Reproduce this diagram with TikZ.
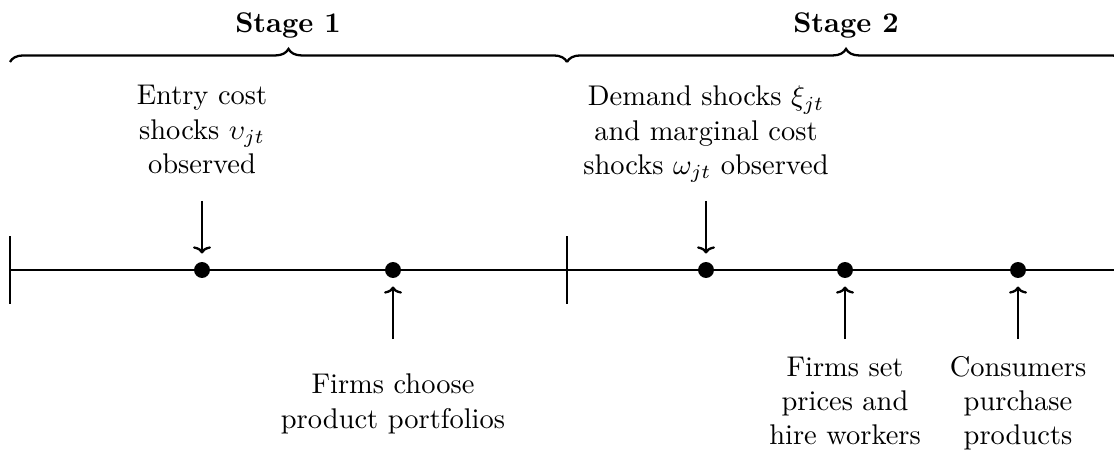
\documentclass[tikz,border=0pt]{standalone}
\usetikzlibrary{decorations.pathreplacing,arrows.meta}
\begin{document}
\begin{tikzpicture}[x=0.012343cm,y=-0.012343cm,
  line width=0.8pt,
  dot/.style={circle,fill=black,inner sep=0pt,minimum size=5.6pt},
  lbl/.style={align=center,inner sep=0pt,anchor=north},
  arr/.style={-{To[length=2.5pt,width=6.3pt]},shorten >=2.6pt},
  bracestyle/.style={decorate,decoration={brace,amplitude=4.6pt}},
  stagelbl/.style={anchor=base,inner sep=0pt,font=\bfseries}]
\useasboundingbox (0,0) rectangle (1114,450);
% timeline
\coordinate (L) at (10,270);
\coordinate (M) at (567,270);
\coordinate (R) at (1125,270);
\draw (L) -- (R);
\draw (L) ++(0,-34) -- ++(0,68);
\draw (M) ++(0,-34) -- ++(0,68);
% braces
\coordinate (b1s) at (10,62);
\coordinate (b1e) at (567,62);
\coordinate (b2s) at (567,62);
\coordinate (b2e) at (1125,62);
\draw[bracestyle] (b1s) -- (b1e);
\draw[bracestyle] (b2s) -- (b2e);
\node[stagelbl] (s1) at (288,33) {Stage 1};
\node[stagelbl] (s2) at (846,33) {Stage 2};
% dots
\node[dot] (d1) at (202,270) {};
\node[dot] (d2) at (393,270) {};
\node[dot] (d3) at (706,270) {};
\node[dot] (d4) at (845,270) {};
\node[dot] (d5) at (1018,270) {};
% labels
\node[lbl] (ta) at (202,84.5) {Entry cost\\shocks $\upsilon_{jt}$\\observed};
\node[lbl] (tb) at (706,85) {Demand shocks $\xi_{jt}$\\and marginal cost\\shocks $\omega_{jt}$ observed};
\node[lbl] (tc) at (393,373) {Firms choose\\product portfolios};
\node[lbl] (td) at (845,355.5) {Firms set\\prices and\\hire workers};
\node[lbl] (te) at (1018,355) {Consumers\\purchase\\products};
% arrow tails
\coordinate (a1) at (202,201);
\coordinate (a3) at (706,201);
\coordinate (a2) at (393,339);
\coordinate (a4) at (845,339);
\coordinate (a5) at (1018,339);
\draw[arr] (a1) -- (d1);
\draw[arr] (a3) -- (d3);
\draw[arr] (a2) -- (d2);
\draw[arr] (a4) -- (d4);
\draw[arr] (a5) -- (d5);
\end{tikzpicture}
\end{document}
